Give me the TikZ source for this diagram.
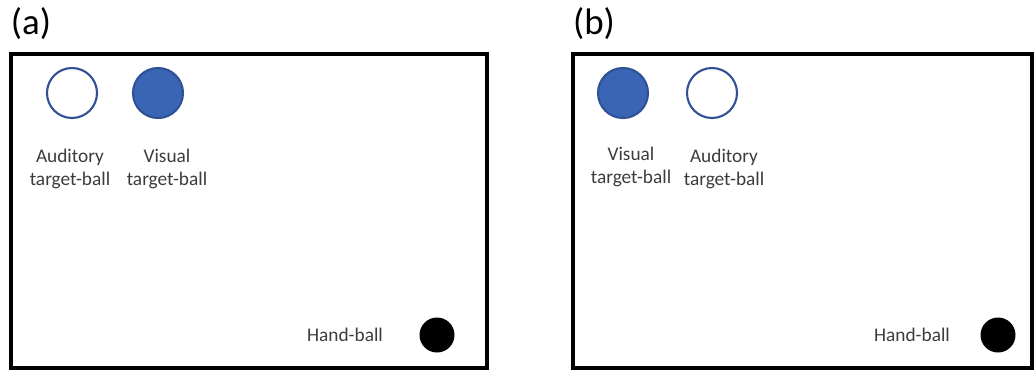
\documentclass[tikz,border=0pt]{standalone}
\usepackage{fontspec}
\setmainfont{Carlito}
\usepackage{xcolor}
\usepackage{tikz}
\usetikzlibrary{positioning,calc}
\definecolor{ballblue}{RGB}{58,100,180}
\definecolor{ballrim}{RGB}{47,82,150}
\definecolor{textgray}{RGB}{60,60,60}

\begin{document}
\begin{tikzpicture}[
    x=0.02cm, y=-0.02cm,
    frame/.style={draw=black, line width=4*0.02cm},
    target/.style={circle, draw=ballrim, line width=1.2pt, minimum size=50*0.02cm, inner sep=0pt},
    visualball/.style={target, fill=ballblue},
    auditoryball/.style={target, fill=white},
    handball/.style={circle, fill=black, minimum size=35*0.02cm, inner sep=0pt},
    label/.style={font=\fontsize{11}{13}\selectfont, text=textgray, align=center},
    panel/.style={font=\fontsize{21}{24}\selectfont, text=black}
]
    \useasboundingbox (0,0) rectangle (1034,370);

    % Panel (a)
    \node[panel] (tagA) at (31,24) {(a)};
    \draw[frame] (11,54) rectangle (487,368);
    \node[auditoryball] (audA) at (72,93) {};
    \node[visualball] (visA) at (158,93) {};
    \node[label] (audAtxt) at (70,169) {Auditory\\target-ball};
    \node[label] (visAtxt) at (167,169) {Visual\\target-ball};
    \node[handball] (handA) at (437,335) {};
    \node[label] (handAtxt) at (345,335) {Hand-ball};

    % Panel (b)
    \node[panel] (tagB) at (594,24) {(b)};
    \draw[frame] (573,54) rectangle (1032,368);
    \node[visualball] (visB) at (623,93) {};
    \node[auditoryball] (audB) at (712,93) {};
    \node[label] (visBtxt) at (631,167) {Visual\\target-ball};
    \node[label] (audBtxt) at (724,169) {Auditory\\target-ball};
    \node[handball] (handB) at (998,335) {};
    \node[label] (handBtxt) at (912,335) {Hand-ball};
\end{tikzpicture}
\end{document}
